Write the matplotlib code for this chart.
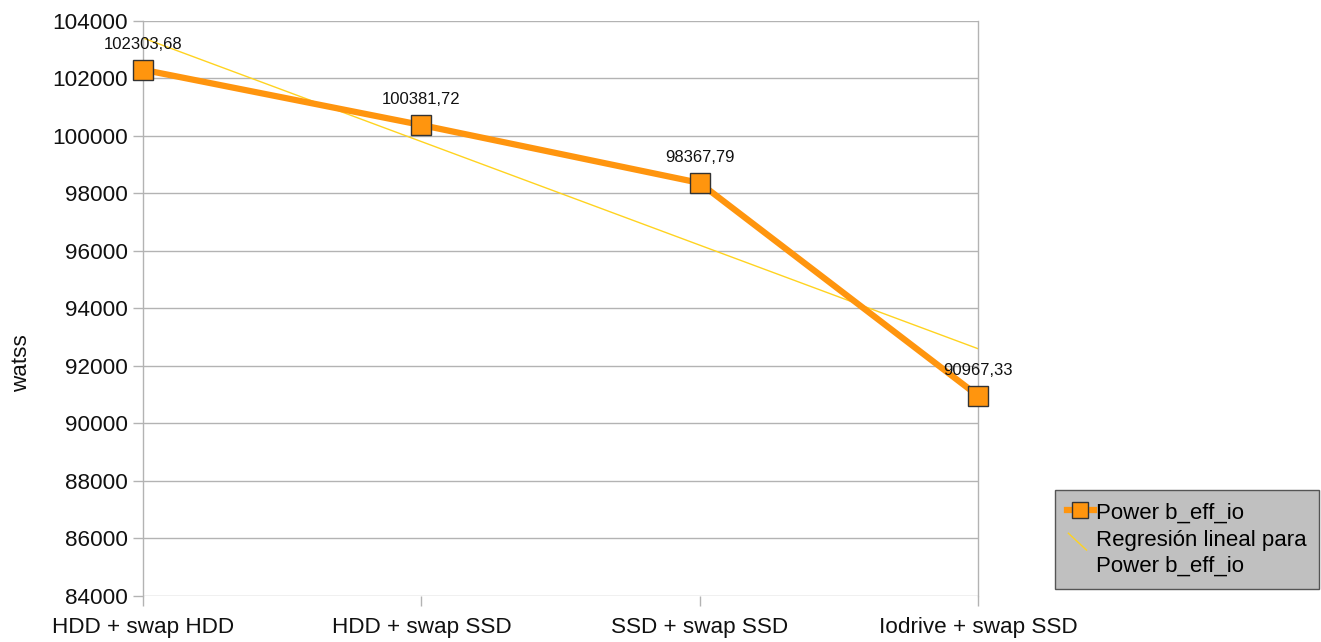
import numpy as np
import matplotlib.pyplot as plt
from matplotlib.lines import Line2D
from matplotlib.legend_handler import HandlerBase

plt.rcParams['font.family'] = ['Liberation Sans', 'DejaVu Sans']

configs = ['HDD + swap HDD', 'HDD + swap SSD', 'SSD + swap SSD', 'Iodrive + swap SSD']
power = [102303.68, 100381.72, 98367.79, 90967.33]
labels = ['102303,68', '100381,72', '98367,79', '90967,33']
yticks = list(range(84000, 104001, 2000))

ORANGE = '#ff950e'
YELLOW = '#ffd320'


class DiagonalHandler(HandlerBase):
    # short diagonal stroke for the trend line entry, level with its first text line
    def create_artists(self, legend, orig_handle, xdescent, ydescent,
                       width, height, fontsize, trans):
        ln = Line2D([width * 0.05, width * 0.73], [height * 1.8, height * 0.72],
                    color=orig_handle.get_color(), lw=orig_handle.get_linewidth(),
                    transform=trans)
        return [ln]


fig = plt.figure(figsize=(13.21, 6.42), dpi=100)
ax = fig.add_axes([0.1083, 0.0717, 0.632, 0.8956])

x = np.arange(len(configs))
slope, intercept = np.polyfit(x, power, 1)
trend, = ax.plot(x, intercept + slope * x, color=YELLOW, lw=1, zorder=2)
main, = ax.plot(x, power, color=ORANGE, lw=4.5, marker='s', markersize=15,
                markerfacecolor=ORANGE, markeredgecolor='#333333',
                markeredgewidth=1, zorder=3, clip_on=False)

for xi, yi, lab in zip(x, power, labels):
    ax.annotate(lab, (xi, yi), xytext=(0, 13), textcoords='offset points',
                ha='center', va='bottom', fontsize=12, color='#111111')

ax.set_xlim(0, 3)
ax.set_ylim(84000, 104000)
ax.set_xticks(x)
ax.set_xticklabels(configs)
ax.set_yticks(yticks)
ax.tick_params(axis='both', labelsize=16.2, color='#b3b3b3', length=7,
               width=1, labelcolor='#111111')
ax.tick_params(axis='x', pad=8)
ax.tick_params(axis='y', pad=4)
ax.grid(axis='y', color='#b3b3b3', lw=1)
ax.set_axisbelow(True)
for side in ['top', 'bottom']:
    ax.spines[side].set_visible(False)
for side in ['left', 'right']:
    ax.spines[side].set_color('#b3b3b3')
    ax.spines[side].set_linewidth(1)

fig.text(0.0165, 0.435, 'watss', rotation=90, va='center', ha='center',
         fontsize=16.2, color='#111111')

leg = fig.legend([main, trend], ['Power b_eff_io', 'Regresión lineal para\nPower b_eff_io'],
                 handler_map={trend: DiagonalHandler()},
                 loc='upper left', bbox_to_anchor=(0.7985, 0.2368),
                 fontsize=16, frameon=True, fancybox=False,
                 facecolor='#c0c0c0', edgecolor='#555555', framealpha=1,
                 handlelength=1.2, handletextpad=0.12, borderpad=0.55,
                 labelspacing=0.3, borderaxespad=0, markerscale=0.75)
leg.get_frame().set_linewidth(1)
leg.get_texts()[1].set_linespacing(1.3)

fig.savefig('out.png', dpi=100)
